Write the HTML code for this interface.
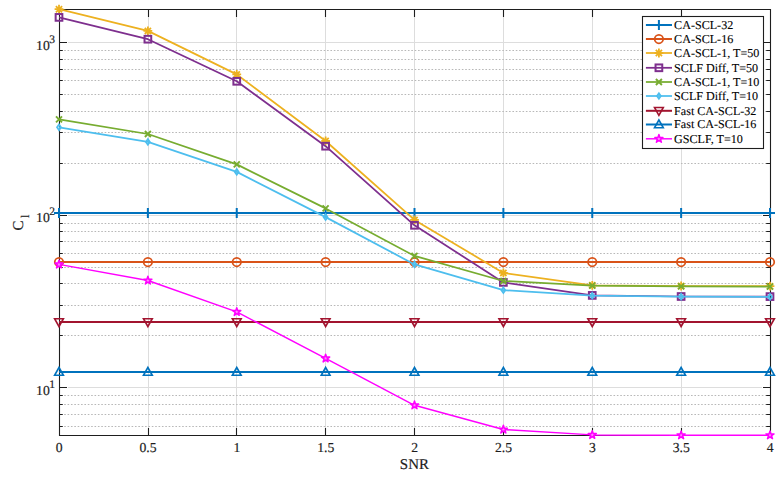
<!DOCTYPE html>
<html lang="en"><head><meta charset="utf-8"><title>C_l versus SNR</title>
<style>html,body{margin:0;padding:0;background:#fff}body{width:781px;height:479px;overflow:hidden}svg{display:block}text{font-family:"Liberation Serif","Times New Roman",serif;fill:#1c1c1c;stroke:#1c1c1c;stroke-width:.18px;text-rendering:geometricPrecision}</style></head><body>
<svg width="781" height="479" viewBox="0 0 781 479">
<rect width="781" height="479" fill="#fff"/>
<path d="M148.5 9.5V435.5M236.5 9.5V435.5M325.5 9.5V435.5M414.5 9.5V435.5M503.5 9.5V435.5M592.5 9.5V435.5M681.5 9.5V435.5M68 387.5H762M68 215.5H762M68 42.5H762" stroke="#dddddd" stroke-width="1" fill="none"/>
<path d="M64.2 426.5H766.5M64.2 414.5H766.5M64.2 404.5H766.5M64.2 395.5H766.5M64.2 335.5H766.5M64.2 305.5H766.5M64.2 283.5H766.5M64.2 267.5H766.5M64.2 253.5H766.5M64.2 241.5H766.5M64.2 231.5H766.5M64.2 223.5H766.5M64.2 163.5H766.5M64.2 132.5H766.5M64.2 111.5H766.5M64.2 94.5H766.5M64.2 80.5H766.5M64.2 69.5H766.5M64.2 59.5H766.5M64.2 50.5H766.5" stroke="#b8b8b8" stroke-width="1" stroke-dasharray="1.6 1.77" fill="none"/>
<path d="M59.5 9.5H770.5V435.5H59.5ZM148.5 435.5v-7.5M148.5 9.5v7.5M236.5 435.5v-7.5M236.5 9.5v7.5M325.5 435.5v-7.5M325.5 9.5v7.5M414.5 435.5v-7.5M414.5 9.5v7.5M503.5 435.5v-7.5M503.5 9.5v7.5M592.5 435.5v-7.5M592.5 9.5v7.5M681.5 435.5v-7.5M681.5 9.5v7.5M59.5 387.5h7.5M770.5 387.5h-7.5M59.5 215.5h7.5M770.5 215.5h-7.5M59.5 42.5h7.5M770.5 42.5h-7.5M59.5 426.5h3.3M770.5 426.5h-4.3M59.5 414.5h3.3M770.5 414.5h-4.3M59.5 404.5h3.3M770.5 404.5h-4.3M59.5 395.5h3.3M770.5 395.5h-4.3M59.5 335.5h3.3M770.5 335.5h-4.3M59.5 305.5h3.3M770.5 305.5h-4.3M59.5 283.5h3.3M770.5 283.5h-4.3M59.5 267.5h3.3M770.5 267.5h-4.3M59.5 253.5h3.3M770.5 253.5h-4.3M59.5 241.5h3.3M770.5 241.5h-4.3M59.5 231.5h3.3M770.5 231.5h-4.3M59.5 223.5h3.3M770.5 223.5h-4.3M59.5 163.5h3.3M770.5 163.5h-4.3M59.5 132.5h3.3M770.5 132.5h-4.3M59.5 111.5h3.3M770.5 111.5h-4.3M59.5 94.5h3.3M770.5 94.5h-4.3M59.5 80.5h3.3M770.5 80.5h-4.3M59.5 69.5h3.3M770.5 69.5h-4.3M59.5 59.5h3.3M770.5 59.5h-4.3M59.5 50.5h3.3M770.5 50.5h-4.3" stroke="#1e1e1e" stroke-width="1.1" fill="none"/>
<clipPath id="ax"><rect x="59.2" y="8.2" width="711" height="427.9"/></clipPath>
<polyline points="59,213 147.88,213 236.75,213 325.62,213 414.5,213 503.38,213 592.25,213 681.12,213 770,213" stroke="#0072BD" stroke-width="2.0" fill="none" stroke-linejoin="round"/>
<path d="M54 213H64M59 208V218" stroke="#0072BD" stroke-width="2" fill="none"/><path d="M142.88 213H152.88M147.88 208V218" stroke="#0072BD" stroke-width="2" fill="none"/><path d="M231.75 213H241.75M236.75 208V218" stroke="#0072BD" stroke-width="2" fill="none"/><path d="M320.62 213H330.62M325.62 208V218" stroke="#0072BD" stroke-width="2" fill="none"/><path d="M409.5 213H419.5M414.5 208V218" stroke="#0072BD" stroke-width="2" fill="none"/><path d="M498.38 213H508.38M503.38 208V218" stroke="#0072BD" stroke-width="2" fill="none"/><path d="M587.25 213H597.25M592.25 208V218" stroke="#0072BD" stroke-width="2" fill="none"/><path d="M676.12 213H686.12M681.12 208V218" stroke="#0072BD" stroke-width="2" fill="none"/><path d="M765 213H775M770 208V218" stroke="#0072BD" stroke-width="2" fill="none"/>
<polyline points="59,262 147.88,262 236.75,262 325.62,262 414.5,262 503.38,262 592.25,262 681.12,262 770,262" stroke="#D95319" stroke-width="2.0" fill="none" stroke-linejoin="round"/>
<circle cx="59" cy="262" r="4.25" stroke="#D95319" stroke-width="1.75" fill="none"/><circle cx="147.88" cy="262" r="4.25" stroke="#D95319" stroke-width="1.75" fill="none"/><circle cx="236.75" cy="262" r="4.25" stroke="#D95319" stroke-width="1.75" fill="none"/><circle cx="325.62" cy="262" r="4.25" stroke="#D95319" stroke-width="1.75" fill="none"/><circle cx="414.5" cy="262" r="4.25" stroke="#D95319" stroke-width="1.75" fill="none"/><circle cx="503.38" cy="262" r="4.25" stroke="#D95319" stroke-width="1.75" fill="none"/><circle cx="592.25" cy="262" r="4.25" stroke="#D95319" stroke-width="1.75" fill="none"/><circle cx="681.12" cy="262" r="4.25" stroke="#D95319" stroke-width="1.75" fill="none"/><circle cx="770" cy="262" r="4.25" stroke="#D95319" stroke-width="1.75" fill="none"/>
<polyline points="59,9.2 147.88,30.9 236.75,74.4 325.62,141 414.5,219.9 503.38,272.9 592.25,285.3 681.12,286 770,286.2" stroke="#EDB120" stroke-width="1.75" fill="none" stroke-linejoin="round"/>
<path d="M54.6 9.2H63.4M59 4.8V13.6M55.9 6.1L62.1 12.3M55.9 12.3L62.1 6.1" stroke="#EDB120" stroke-width="1.8" fill="none"/><path d="M143.47 30.9H152.28M147.88 26.5V35.3M144.78 27.8L150.97 34M144.78 34L150.97 27.8" stroke="#EDB120" stroke-width="1.8" fill="none"/><path d="M232.35 74.4H241.15M236.75 70V78.8M233.65 71.3L239.85 77.5M233.65 77.5L239.85 71.3" stroke="#EDB120" stroke-width="1.8" fill="none"/><path d="M321.23 141H330.02M325.62 136.6V145.4M322.52 137.9L328.73 144.1M322.52 144.1L328.73 137.9" stroke="#EDB120" stroke-width="1.8" fill="none"/><path d="M410.1 219.9H418.9M414.5 215.5V224.3M411.4 216.8L417.6 223M411.4 223L417.6 216.8" stroke="#EDB120" stroke-width="1.8" fill="none"/><path d="M498.98 272.9H507.77M503.38 268.5V277.3M500.27 269.8L506.48 276M500.27 276L506.48 269.8" stroke="#EDB120" stroke-width="1.8" fill="none"/><path d="M587.85 285.3H596.65M592.25 280.9V289.7M589.15 282.2L595.35 288.4M589.15 288.4L595.35 282.2" stroke="#EDB120" stroke-width="1.8" fill="none"/><path d="M676.73 286H685.52M681.12 281.6V290.4M678.02 282.9L684.23 289.1M678.02 289.1L684.23 282.9" stroke="#EDB120" stroke-width="1.8" fill="none"/><path d="M765.6 286.2H774.4M770 281.8V290.6M766.9 283.1L773.1 289.3M766.9 289.3L773.1 283.1" stroke="#EDB120" stroke-width="1.8" fill="none"/>
<polyline points="59,17.4 147.88,39.2 236.75,81.3 325.62,146.2 414.5,225.3 503.38,282.4 592.25,295.4 681.12,296.5 770,296.6" stroke="#7E2F8E" stroke-width="1.75" fill="none" stroke-linejoin="round"/>
<rect x="55.65" y="14.05" width="6.7" height="6.7" stroke="#7E2F8E" stroke-width="2" fill="none"/><rect x="144.53" y="35.85" width="6.7" height="6.7" stroke="#7E2F8E" stroke-width="2" fill="none"/><rect x="233.4" y="77.95" width="6.7" height="6.7" stroke="#7E2F8E" stroke-width="2" fill="none"/><rect x="322.27" y="142.85" width="6.7" height="6.7" stroke="#7E2F8E" stroke-width="2" fill="none"/><rect x="411.15" y="221.95" width="6.7" height="6.7" stroke="#7E2F8E" stroke-width="2" fill="none"/><rect x="500.02" y="279.05" width="6.7" height="6.7" stroke="#7E2F8E" stroke-width="2" fill="none"/><rect x="588.9" y="292.05" width="6.7" height="6.7" stroke="#7E2F8E" stroke-width="2" fill="none"/><rect x="677.77" y="293.15" width="6.7" height="6.7" stroke="#7E2F8E" stroke-width="2" fill="none"/><rect x="766.65" y="293.25" width="6.7" height="6.7" stroke="#7E2F8E" stroke-width="2" fill="none"/>
<polyline points="59,119.4 147.88,134 236.75,164.4 325.62,208.4 414.5,255.9 503.38,281 592.25,285.7 681.12,286.4 770,286.6" stroke="#77AC30" stroke-width="1.75" fill="none" stroke-linejoin="round"/>
<path d="M56 116.4L62 122.4M56 122.4L62 116.4" stroke="#77AC30" stroke-width="1.9" fill="none"/><path d="M144.88 131L150.88 137M144.88 137L150.88 131" stroke="#77AC30" stroke-width="1.9" fill="none"/><path d="M233.75 161.4L239.75 167.4M233.75 167.4L239.75 161.4" stroke="#77AC30" stroke-width="1.9" fill="none"/><path d="M322.62 205.4L328.62 211.4M322.62 211.4L328.62 205.4" stroke="#77AC30" stroke-width="1.9" fill="none"/><path d="M411.5 252.9L417.5 258.9M411.5 258.9L417.5 252.9" stroke="#77AC30" stroke-width="1.9" fill="none"/><path d="M500.38 278L506.38 284M500.38 284L506.38 278" stroke="#77AC30" stroke-width="1.9" fill="none"/><path d="M589.25 282.7L595.25 288.7M589.25 288.7L595.25 282.7" stroke="#77AC30" stroke-width="1.9" fill="none"/><path d="M678.12 283.4L684.12 289.4M678.12 289.4L684.12 283.4" stroke="#77AC30" stroke-width="1.9" fill="none"/><path d="M767 283.6L773 289.6M767 289.6L773 283.6" stroke="#77AC30" stroke-width="1.9" fill="none"/>
<polyline points="59,127.3 147.88,141.9 236.75,171.9 325.62,217.15 414.5,264.4 503.38,290.2 592.25,295.7 681.12,296.7 770,296.85" stroke="#4DBEEE" stroke-width="1.75" fill="none" stroke-linejoin="round"/>
<path d="M59 124.5L60.95 127.3L59 130.1L57.05 127.3Z" stroke="#4DBEEE" stroke-width="1.75" fill="none" stroke-linejoin="miter"/><path d="M147.88 139.1L149.82 141.9L147.88 144.7L145.93 141.9Z" stroke="#4DBEEE" stroke-width="1.75" fill="none" stroke-linejoin="miter"/><path d="M236.75 169.1L238.7 171.9L236.75 174.7L234.8 171.9Z" stroke="#4DBEEE" stroke-width="1.75" fill="none" stroke-linejoin="miter"/><path d="M325.62 214.35L327.57 217.15L325.62 219.95L323.68 217.15Z" stroke="#4DBEEE" stroke-width="1.75" fill="none" stroke-linejoin="miter"/><path d="M414.5 261.6L416.45 264.4L414.5 267.2L412.55 264.4Z" stroke="#4DBEEE" stroke-width="1.75" fill="none" stroke-linejoin="miter"/><path d="M503.38 287.4L505.32 290.2L503.38 293L501.43 290.2Z" stroke="#4DBEEE" stroke-width="1.75" fill="none" stroke-linejoin="miter"/><path d="M592.25 292.9L594.2 295.7L592.25 298.5L590.3 295.7Z" stroke="#4DBEEE" stroke-width="1.75" fill="none" stroke-linejoin="miter"/><path d="M681.12 293.9L683.08 296.7L681.12 299.5L679.17 296.7Z" stroke="#4DBEEE" stroke-width="1.75" fill="none" stroke-linejoin="miter"/><path d="M770 294.05L771.95 296.85L770 299.65L768.05 296.85Z" stroke="#4DBEEE" stroke-width="1.75" fill="none" stroke-linejoin="miter"/>
<polyline points="59,322 147.88,322 236.75,322 325.62,322 414.5,322 503.38,322 592.25,322 681.12,322 770,322" stroke="#A2142F" stroke-width="2.0" fill="none" stroke-linejoin="round"/>
<path d="M54.6 318.7H63.4L59 326.5Z" stroke="#A2142F" stroke-width="1.6" fill="none" stroke-linejoin="miter"/><path d="M143.47 318.7H152.28L147.88 326.5Z" stroke="#A2142F" stroke-width="1.6" fill="none" stroke-linejoin="miter"/><path d="M232.35 318.7H241.15L236.75 326.5Z" stroke="#A2142F" stroke-width="1.6" fill="none" stroke-linejoin="miter"/><path d="M321.23 318.7H330.02L325.62 326.5Z" stroke="#A2142F" stroke-width="1.6" fill="none" stroke-linejoin="miter"/><path d="M410.1 318.7H418.9L414.5 326.5Z" stroke="#A2142F" stroke-width="1.6" fill="none" stroke-linejoin="miter"/><path d="M498.98 318.7H507.77L503.38 326.5Z" stroke="#A2142F" stroke-width="1.6" fill="none" stroke-linejoin="miter"/><path d="M587.85 318.7H596.65L592.25 326.5Z" stroke="#A2142F" stroke-width="1.6" fill="none" stroke-linejoin="miter"/><path d="M676.73 318.7H685.52L681.12 326.5Z" stroke="#A2142F" stroke-width="1.6" fill="none" stroke-linejoin="miter"/><path d="M765.6 318.7H774.4L770 326.5Z" stroke="#A2142F" stroke-width="1.6" fill="none" stroke-linejoin="miter"/>
<polyline points="59,372 147.88,372 236.75,372 325.62,372 414.5,372 503.38,372 592.25,372 681.12,372 770,372" stroke="#0072BD" stroke-width="2.0" fill="none" stroke-linejoin="round"/>
<path d="M54.6 375.3H63.4L59 367.5Z" stroke="#0072BD" stroke-width="1.6" fill="none" stroke-linejoin="miter"/><path d="M143.47 375.3H152.28L147.88 367.5Z" stroke="#0072BD" stroke-width="1.6" fill="none" stroke-linejoin="miter"/><path d="M232.35 375.3H241.15L236.75 367.5Z" stroke="#0072BD" stroke-width="1.6" fill="none" stroke-linejoin="miter"/><path d="M321.23 375.3H330.02L325.62 367.5Z" stroke="#0072BD" stroke-width="1.6" fill="none" stroke-linejoin="miter"/><path d="M410.1 375.3H418.9L414.5 367.5Z" stroke="#0072BD" stroke-width="1.6" fill="none" stroke-linejoin="miter"/><path d="M498.98 375.3H507.77L503.38 367.5Z" stroke="#0072BD" stroke-width="1.6" fill="none" stroke-linejoin="miter"/><path d="M587.85 375.3H596.65L592.25 367.5Z" stroke="#0072BD" stroke-width="1.6" fill="none" stroke-linejoin="miter"/><path d="M676.73 375.3H685.52L681.12 367.5Z" stroke="#0072BD" stroke-width="1.6" fill="none" stroke-linejoin="miter"/><path d="M765.6 375.3H774.4L770 367.5Z" stroke="#0072BD" stroke-width="1.6" fill="none" stroke-linejoin="miter"/>
<polyline points="59,264.4 147.88,280.5 236.75,311.9 325.62,358.4 414.5,405.3 503.38,429.5 592.25,434.9 681.12,435.2 770,435.2" stroke="#FF00FF" stroke-width="1.45" fill="none" stroke-linejoin="round"/>
<path d="M59 260.15L59.95 263.09L63.04 263.09L60.54 264.9L61.5 267.84L59 266.02L56.5 267.84L57.46 264.9L54.96 263.09L58.05 263.09Z" stroke="#FF00FF" stroke-width="1.5" fill="#ff8cff" stroke-linejoin="round"/><path d="M147.88 276.25L148.83 279.19L151.92 279.19L149.42 281L150.37 283.94L147.88 282.12L145.38 283.94L146.33 281L143.83 279.19L146.92 279.19Z" stroke="#FF00FF" stroke-width="1.5" fill="#ff8cff" stroke-linejoin="round"/><path d="M236.75 307.65L237.7 310.59L240.79 310.59L238.29 312.4L239.25 315.34L236.75 313.52L234.25 315.34L235.21 312.4L232.71 310.59L235.8 310.59Z" stroke="#FF00FF" stroke-width="1.5" fill="#ff8cff" stroke-linejoin="round"/><path d="M325.62 354.15L326.58 357.09L329.67 357.09L327.17 358.9L328.12 361.84L325.62 360.02L323.13 361.84L324.08 358.9L321.58 357.09L324.67 357.09Z" stroke="#FF00FF" stroke-width="1.5" fill="#ff8cff" stroke-linejoin="round"/><path d="M414.5 401.05L415.45 403.99L418.54 403.99L416.04 405.8L417 408.74L414.5 406.92L412 408.74L412.96 405.8L410.46 403.99L413.55 403.99Z" stroke="#FF00FF" stroke-width="1.5" fill="#ff8cff" stroke-linejoin="round"/><path d="M503.38 425.25L504.33 428.19L507.42 428.19L504.92 430L505.87 432.94L503.38 431.12L500.88 432.94L501.83 430L499.33 428.19L502.42 428.19Z" stroke="#FF00FF" stroke-width="1.5" fill="#ff8cff" stroke-linejoin="round"/><path d="M592.25 430.65L593.2 433.59L596.29 433.59L593.79 435.4L594.75 438.34L592.25 436.52L589.75 438.34L590.71 435.4L588.21 433.59L591.3 433.59Z" stroke="#FF00FF" stroke-width="1.5" fill="#ff8cff" stroke-linejoin="round"/><path d="M681.12 430.95L682.08 433.89L685.17 433.89L682.67 435.7L683.62 438.64L681.12 436.82L678.63 438.64L679.58 435.7L677.08 433.89L680.17 433.89Z" stroke="#FF00FF" stroke-width="1.5" fill="#ff8cff" stroke-linejoin="round"/><path d="M770 430.95L770.95 433.89L774.04 433.89L771.54 435.7L772.5 438.64L770 436.82L767.5 438.64L768.46 435.7L765.96 433.89L769.05 433.89Z" stroke="#FF00FF" stroke-width="1.5" fill="#ff8cff" stroke-linejoin="round"/>
<text x="59.2" y="452.1" font-size="13.7" text-anchor="middle">0</text>
<text x="148.07" y="452.1" font-size="13.7" text-anchor="middle">0.5</text>
<text x="236.95" y="452.1" font-size="13.7" text-anchor="middle">1</text>
<text x="325.82" y="452.1" font-size="13.7" text-anchor="middle">1.5</text>
<text x="414.7" y="452.1" font-size="13.7" text-anchor="middle">2</text>
<text x="503.57" y="452.1" font-size="13.7" text-anchor="middle">2.5</text>
<text x="592.45" y="452.1" font-size="13.7" text-anchor="middle">3</text>
<text x="681.33" y="452.1" font-size="13.7" text-anchor="middle">3.5</text>
<text x="770.2" y="452.1" font-size="13.7" text-anchor="middle">4</text>
<text x="36.1" y="394.75" font-size="13.7">10<tspan font-size="11.5" dy="-7.0" dx="-0.6">1</tspan></text>
<text x="36.1" y="222.22" font-size="13.7">10<tspan font-size="11.5" dy="-7.0" dx="-0.6">2</tspan></text>
<text x="36.1" y="49.69" font-size="13.7">10<tspan font-size="11.5" dy="-7.0" dx="-0.6">3</tspan></text>
<text x="414.7" y="468.8" font-size="14.95" dx="-0.3" text-anchor="middle">SNR</text>
<text transform="translate(23.4 230.6) rotate(-90)" font-size="15.0">C<tspan font-size="11.8" dy="5.8" dx="2.6">l</tspan></text>
<rect x="642.5" y="16.5" width="121" height="132" fill="#fff" stroke="#1e1e1e" stroke-width="1.1"/>
<path d="M645.9 25H672" stroke="#0072BD" stroke-width="2.0" fill="none"/>
<path d="M653.9 25H663.9M658.9 20V30" stroke="#0072BD" stroke-width="2" fill="none"/>
<text x="674.1" y="28.9" font-size="12.1" style="fill:#000;stroke:#000;stroke-width:.1px">CA-SCL-32</text>
<path d="M645.9 39H672" stroke="#D95319" stroke-width="2.0" fill="none"/>
<circle cx="658.9" cy="39" r="4.25" stroke="#D95319" stroke-width="1.75" fill="none"/>
<text x="674.1" y="42.9" font-size="12.1" style="fill:#000;stroke:#000;stroke-width:.1px">CA-SCL-16</text>
<path d="M645.9 53H672" stroke="#EDB120" stroke-width="1.75" fill="none"/>
<path d="M654.5 53H663.3M658.9 48.6V57.4M655.8 49.9L662 56.1M655.8 56.1L662 49.9" stroke="#EDB120" stroke-width="1.8" fill="none"/>
<text x="674.1" y="56.9" font-size="12.1" style="fill:#000;stroke:#000;stroke-width:.1px">CA-SCL-1, T=50</text>
<path d="M645.9 67.8H672" stroke="#7E2F8E" stroke-width="1.75" fill="none"/>
<rect x="655.55" y="64.45" width="6.7" height="6.7" stroke="#7E2F8E" stroke-width="2" fill="none"/>
<text x="674.1" y="71.7" font-size="12.1" style="fill:#000;stroke:#000;stroke-width:.1px">SCLF Diff, T=50</text>
<path d="M645.9 82H672" stroke="#77AC30" stroke-width="1.75" fill="none"/>
<path d="M655.9 79L661.9 85M655.9 85L661.9 79" stroke="#77AC30" stroke-width="1.9" fill="none"/>
<text x="674.1" y="85.9" font-size="12.1" style="fill:#000;stroke:#000;stroke-width:.1px">CA-SCL-1, T=10</text>
<path d="M645.9 96H672" stroke="#4DBEEE" stroke-width="1.75" fill="none"/>
<path d="M658.9 93.2L660.85 96L658.9 98.8L656.95 96Z" stroke="#4DBEEE" stroke-width="1.75" fill="none" stroke-linejoin="miter"/>
<text x="674.1" y="99.9" font-size="12.1" style="fill:#000;stroke:#000;stroke-width:.1px">SCLF Diff, T=10</text>
<path d="M645.9 110.8H672" stroke="#A2142F" stroke-width="2.0" fill="none"/>
<path d="M654.5 107.5H663.3L658.9 115.3Z" stroke="#A2142F" stroke-width="1.6" fill="none" stroke-linejoin="miter"/>
<text x="674.1" y="114.7" font-size="12.1" style="fill:#000;stroke:#000;stroke-width:.1px">Fast CA-SCL-32</text>
<path d="M645.9 124.5H672" stroke="#0072BD" stroke-width="2.0" fill="none"/>
<path d="M654.5 127.8H663.3L658.9 120Z" stroke="#0072BD" stroke-width="1.6" fill="none" stroke-linejoin="miter"/>
<text x="674.1" y="128.4" font-size="12.1" style="fill:#000;stroke:#000;stroke-width:.1px">Fast CA-SCL-16</text>
<path d="M645.9 138.8H672" stroke="#FF00FF" stroke-width="1.45" fill="none"/>
<path d="M658.9 134.55L659.85 137.49L662.94 137.49L660.44 139.3L661.4 142.24L658.9 140.42L656.4 142.24L657.36 139.3L654.86 137.49L657.95 137.49Z" stroke="#FF00FF" stroke-width="1.5" fill="#ff8cff" stroke-linejoin="round"/>
<text x="674.1" y="142.7" font-size="12.1" style="fill:#000;stroke:#000;stroke-width:.1px">GSCLF, T=10</text>
</svg></body></html>
